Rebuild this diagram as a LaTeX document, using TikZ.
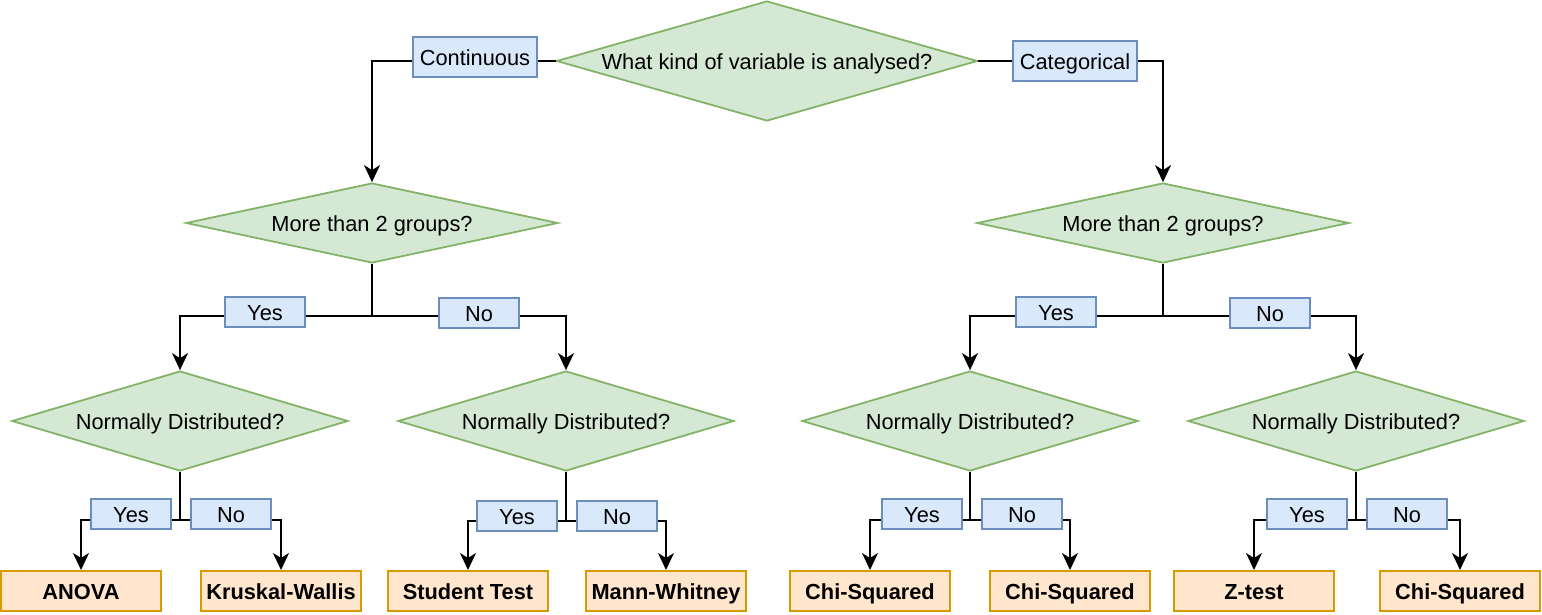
\documentclass[tikz,border=0pt]{standalone}
\usepackage{fontspec}
\setmainfont{Liberation Sans}
\usetikzlibrary{shapes.geometric,arrows.meta}

\definecolor{qfill}{HTML}{D5E8D4}
\definecolor{qdraw}{HTML}{82B366}
\definecolor{ansfill}{HTML}{DAE8FC}
\definecolor{ansdraw}{HTML}{6C8EBF}
\definecolor{testfill}{HTML}{FFE6CC}
\definecolor{testdraw}{HTML}{D79B00}

\newcommand{\chartfont}{\fontsize{21.8}{26}\selectfont}

\tikzset{
	question/.style={diamond, draw=qdraw, fill=qfill, line width=1.8pt, inner sep=0pt, minimum width=336pt, minimum height=100pt},
	answer/.style={rectangle, draw=ansdraw, fill=ansfill, line width=1.8pt, inner sep=0pt, minimum width=80pt, minimum height=30pt},
	test/.style={rectangle, draw=testdraw, fill=testfill, line width=2pt, inner sep=0pt, minimum width=160pt, minimum height=40pt, font=\chartfont\bfseries},
	wire/.style={line width=2pt},
	link/.style={line width=2pt, -{Stealth[length=17pt,width=16pt,inset=5pt]}}
}

\begin{document}
\begin{tikzpicture}[x=1pt, y=-1pt, font=\chartfont, every node/.append style={text height=16pt, text depth=0pt}]
	\useasboundingbox (0,0) rectangle (1542,614);
	
	% questions
	\node[question, minimum width=421pt, minimum height=120pt] (q0) at (767,61) {\makebox[0pt]{What kind of variable is analysed?}};
	\node[question, minimum width=372pt, minimum height=80pt] (q1) at (372,223) {\makebox[0pt]{More than 2 groups?}};
	\node[question, minimum width=372pt, minimum height=80pt] (q2) at (1163,223) {\makebox[0pt]{More than 2 groups?}};
	\node[question] (d1) at (180,421) {\makebox[0pt]{Normally Distributed?}};
	\node[question] (d2) at (566,421) {\makebox[0pt]{Normally Distributed?}};
	\node[question] (d3) at (970,421) {\makebox[0pt]{Normally Distributed?}};
	\node[question] (d4) at (1356,421) {\makebox[0pt]{Normally Distributed?}};
	
	% tests
	\node[test] (anova) at (81,591) {ANOVA};
	\node[test] (kruskal) at (281,591) {Kruskal-Wallis};
	\node[test] (student) at (468,591) {Student Test};
	\node[test] (mann) at (666,591) {Mann-Whitney};
	\node[test] (chia) at (870,591) {Chi-Squared};
	\node[test] (chib) at (1070,591) {Chi-Squared};
	\node[test] (ztest) at (1254,591) {Z-test};
	\node[test] (chic) at (1460,591) {Chi-Squared};
	
	% branch points
	\coordinate (s1) at (372,316);
	\coordinate (s2) at (1163,316);
	\coordinate (t1) at (180,520);
	\coordinate (t2) at (566,521);
	\coordinate (t3) at (970,520);
	\coordinate (t4) at (1356,520);
	
	% connectors
	\draw[link] (q0.west) -| (q1.north);
	\draw[link] (q0.east) -| (q2.north);
	
	\draw[wire] (q1.south) -- (s1);
	\draw[link] (s1) -| (d1.north);
	\draw[link] (s1) -| (d2.north);
	\draw[wire] (q2.south) -- (s2);
	\draw[link] (s2) -| (d3.north);
	\draw[link] (s2) -| (d4.north);
	
	\draw[wire] (d1.south) -- (t1);
	\draw[link] (t1) -| (anova.north);
	\draw[link] (t1) -| (kruskal.north);
	\draw[wire] (d2.south) -- (t2);
	\draw[link] (t2) -| (student.north);
	\draw[link] (t2) -| (mann.north);
	\draw[wire] (d3.south) -- (t3);
	\draw[link] (t3) -| (chia.north);
	\draw[link] (t3) -| (chib.north);
	\draw[wire] (d4.south) -- (t4);
	\draw[link] (t4) -| (ztest.north);
	\draw[link] (t4) -| (chic.north);
	
	% answers on the lines
	\node[answer, minimum width=124pt, minimum height=40pt] (cont) at (475,57) {Continuous};
	\node[answer, minimum width=124pt, minimum height=40pt] (cat) at (1075,61) {Categorical};
	
	\node[answer] (y1) at (265,312) {Yes};
	\node[answer] (n1) at (479,313) {No};
	\node[answer] (y2) at (1056,312) {Yes};
	\node[answer] (n2) at (1270,313) {No};
	
	\node[answer] (y11) at (131,514) {Yes};
	\node[answer] (n11) at (231,514) {No};
	\node[answer] (y12) at (517,516) {Yes};
	\node[answer] (n12) at (617,516) {No};
	\node[answer] (y21) at (922,514) {Yes};
	\node[answer] (n21) at (1022,514) {No};
	\node[answer] (y22) at (1307,514) {Yes};
	\node[answer] (n22) at (1407,514) {No};
	
\end{tikzpicture}
\end{document}
